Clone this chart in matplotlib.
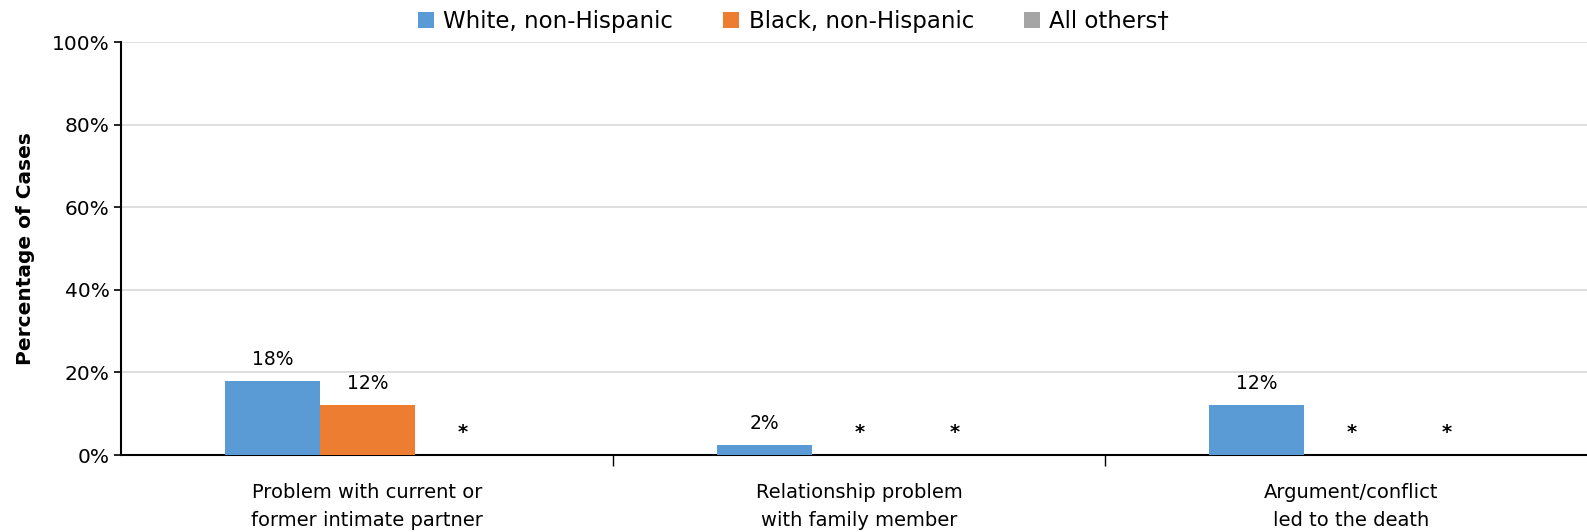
import numpy as np
import matplotlib.pyplot as plt
from matplotlib.patches import Patch

plt.rcParams['font.family'] = ['DejaVu Sans']

# data
categories = ["Problem with current or\nformer intimate partner",
              "Relationship problem\nwith family member",
              "Argument/conflict\nled to the death"]
series_names = ["White, non-Hispanic", "Black, non-Hispanic", "All others\u2020"]
white = [17.9, 2.4, 12.0]
black = [12.1, 0.0, 0.0]
others = [0.0, 0.0, 0.0]
white_lbl = ["18%", "2%", "12%"]
black_lbl = ["12%", "*", "*"]
others_lbl = ["*", "*", "*"]
colors = ["#5B9BD5", "#ED7D31", "#A5A5A5"]

fig = plt.figure(figsize=(15.87, 5.32), dpi=100)
# axes extend slightly past the right edge, as in the original
ax = fig.add_axes([0.0765, 0.1447, 0.9300, 0.7763])

x = np.arange(len(categories))
w = 0.193
series = [white, black, others]
labels = [white_lbl, black_lbl, others_lbl]
for i, (vals, lbls) in enumerate(zip(series, labels)):
    pos = x + (i - 1) * w
    ax.bar(pos, vals, width=w, color=colors[i], zorder=3)
    for p, v, t in zip(pos, vals, lbls):
        if t == "*":
            ax.text(p, v + 5.5, t, ha="center", va="center", fontsize=14,
                    fontweight="bold")
        else:
            ax.text(p, v + 3.0, t, ha="center", va="bottom", fontsize=13.5)

ax.set_xlim(-0.5, 2.5)
ax.set_ylim(0, 100)
ax.set_yticks(range(0, 101, 20))
ax.set_yticklabels([f"{v}%" for v in range(0, 101, 20)], fontsize=14.5)
ax.yaxis.grid(True, color="#D9D9D9", linewidth=1.2, zorder=0)
ax.set_axisbelow(True)
ax.set_ylabel("Percentage of Cases", fontsize=14.5, fontweight="bold", labelpad=12)

ax.set_xticks([0.5, 1.5])
ax.set_xticklabels([])
ax.tick_params(axis="x", length=8, width=1)
ax.tick_params(axis="y", length=5, width=1.2)
for t, c in zip(x, categories):
    ax.text(t, -6.8, c, ha="center", va="top", fontsize=14, linespacing=1.6)

for s in ["top", "right"]:
    ax.spines[s].set_visible(False)
ax.spines["left"].set_linewidth(1.5)
ax.spines["bottom"].set_linewidth(1.5)

handles = [Patch(facecolor=c) for c in colors]
fig.legend(handles, series_names, loc="upper center", bbox_to_anchor=(0.5, 1.02),
           ncol=3, frameon=False, fontsize=16.5, handlelength=0.7, handleheight=0.7,
           handletextpad=0.4, columnspacing=2.2)

fig.savefig("out.png", dpi=100)
